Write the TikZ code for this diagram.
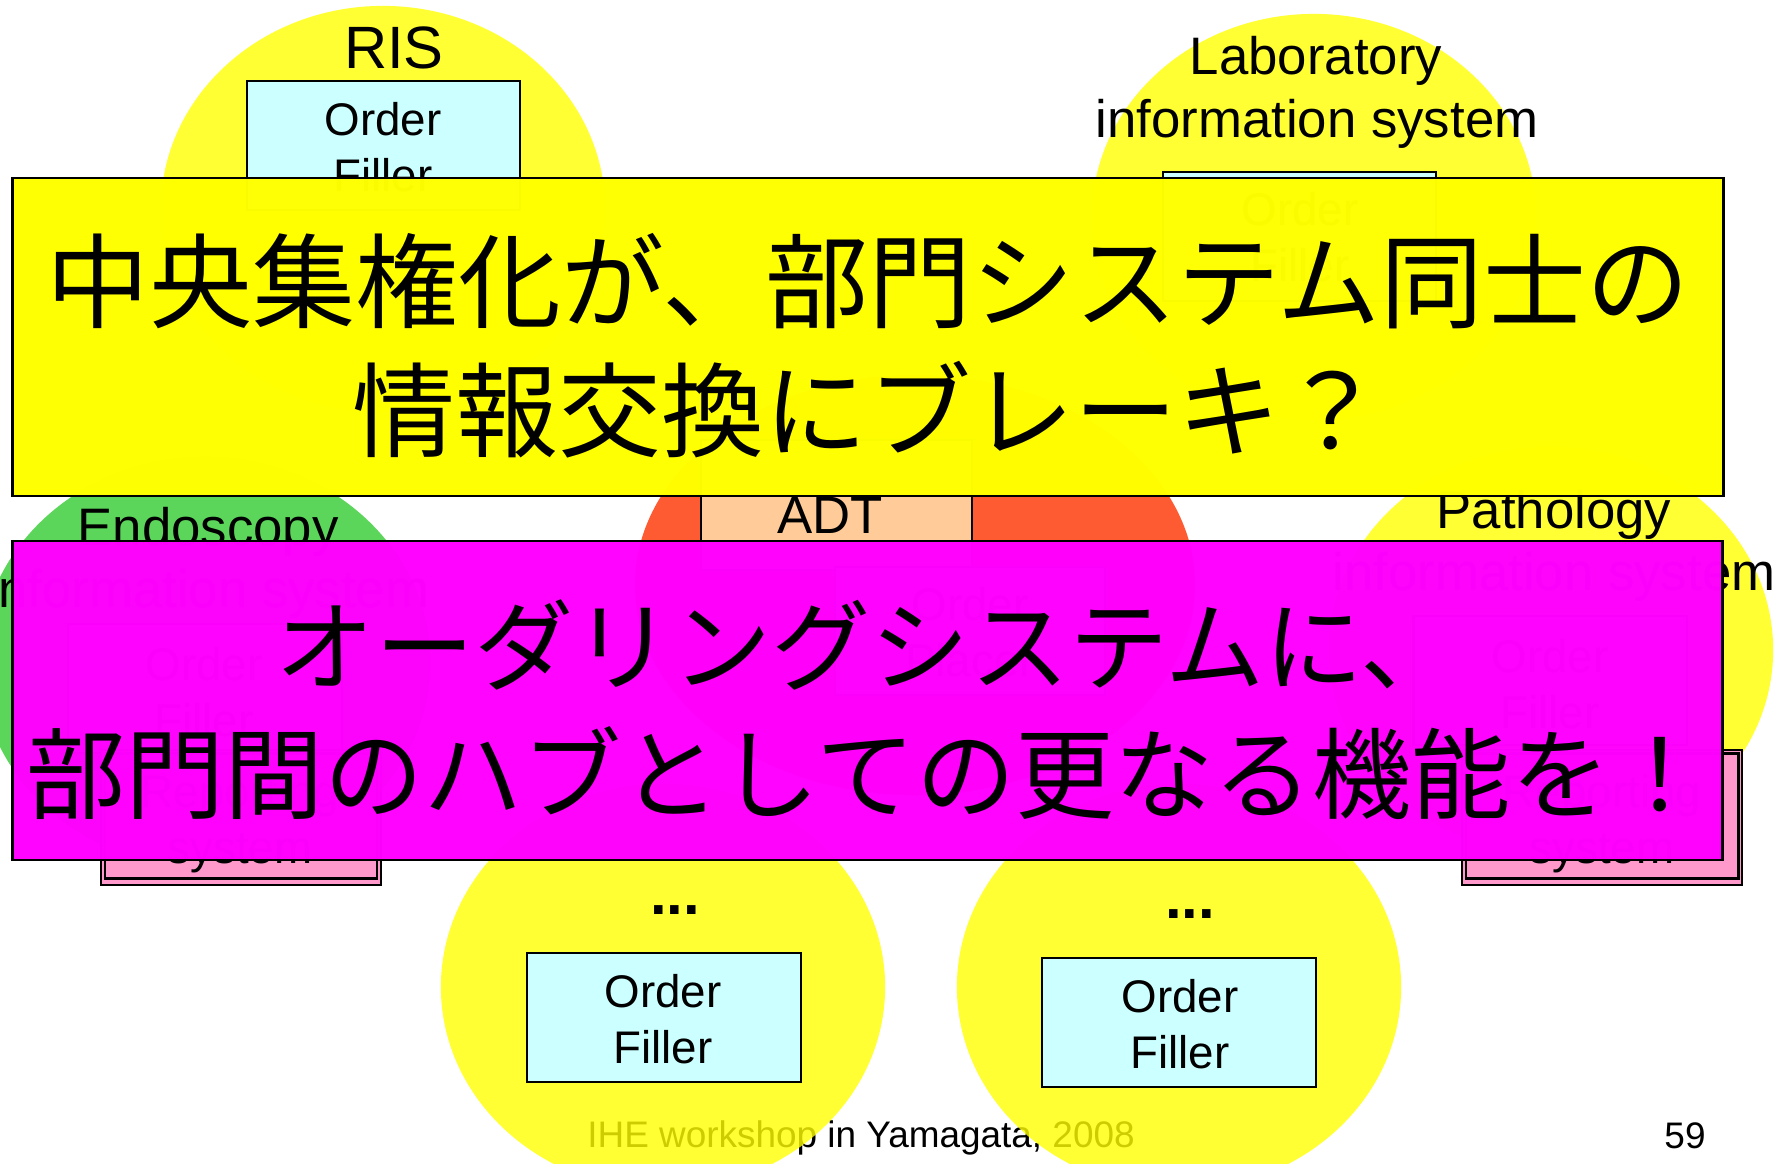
\documentclass[tikz,border=0pt]{standalone}
\usepackage{fontspec}
\setmainfont{Liberation Sans}
\newfontfamily\jpfont{Noto Sans CJK JP}
\usetikzlibrary{shapes.geometric}
\definecolor{ellY}{RGB}{255,255,0}
\definecolor{ellG}{RGB}{51,204,51}
\definecolor{ellR}{RGB}{255,51,0}
\definecolor{boxC}{RGB}{204,255,255}
\definecolor{boxP}{RGB}{255,153,204}
\definecolor{boxA}{RGB}{255,204,153}
\definecolor{banY}{RGB}{255,255,0}
\definecolor{banM}{RGB}{255,0,255}
\begin{document}
\begin{tikzpicture}[x=0.01cm,y=-0.01cm,
  lbl/.style={inner sep=0pt,outer sep=0pt,anchor=base},
  big/.style={lbl,font=\fontsize{17pt}{20pt}\selectfont},
  mid/.style={lbl,font=\fontsize{15pt}{18pt}\selectfont},
  sml/.style={lbl,font=\fontsize{13pt}{16pt}\selectfont},
  foot/.style={lbl,font=\fontsize{10.5pt}{12pt}\selectfont},
  dots/.style={lbl,font=\bfseries\fontsize{17pt}{20pt}\selectfont},
  jpA/.style={lbl,font=\jpfont\fontsize{29.3pt}{35pt}\selectfont},
  jpB/.style={lbl,font=\jpfont\fontsize{28.2pt}{34pt}\selectfont},
  sysell/.style={ellipse,draw=none,inner sep=0pt,fill opacity=0.8,minimum width=4.44cm,minimum height=4.06cm},
  ofbox/.style={rectangle,draw=black,line width=0.6pt,fill=boxC,inner sep=0pt,minimum width=2.73cm,minimum height=1.29cm},
  repbox/.style={rectangle,draw=black,line width=0.6pt,fill=boxP,inner sep=0pt,minimum width=2.8cm,minimum height=1.35cm},
  repin/.style={rectangle,draw=black,line width=0.8pt,inner sep=0pt,minimum width=2.72cm,minimum height=1.25cm},
  banner/.style={rectangle,draw=black,line width=0.7pt,inner sep=0pt,fill opacity=0.985}
]
\useasboundingbox (0,0) rectangle (1786,1163);
\fill[white] (0,0) rectangle (1786,1163);

% footer (under the ellipses)
\node[foot] (footer) at (861,1147) {IHE workshop in Yamagata, 2008};
\node[foot] (pageno) at (1685,1148) {59};

% system ellipses
\node[sysell,fill=ellY] (risell) at (383,209) {};
\node[sysell,fill=ellY] (labell) at (1314,217) {};
\node[sysell,fill=ellG,minimum width=4.5cm,minimum height=4.1cm] (endell) at (205,662) {};
\node[sysell,fill=ellR,minimum width=5.6cm,minimum height=4.2cm] (adtell) at (915,585) {};
\node[sysell,fill=ellY] (patell) at (1551,650) {};
\node[sysell,fill=ellY] (bl) at (663,987) {};
\node[sysell,fill=ellY] (br) at (1179,987) {};

% RIS
\node[big] (rislbl) at (394,68) {RIS};
\node[ofbox] (risbox) at (383.5,145.5) {};
\node[sml] (risO) at (383,135) {Order};
\node[sml] (risF) at (383,191) {Filler};

% Laboratory
\node[mid] (lab1) at (1316,74) {Laboratory};
\node[mid] (lab2) at (1317,137) {information system};
\node[ofbox] (labbox) at (1299.5,236.5) {};
\node[sml] (labO) at (1300,225) {Order};
\node[sml] (labF) at (1300,281) {Filler};

% Endoscopy
\node[mid] (end1) at (208,545) {Endoscopy};
\node[mid] (end2) at (208,607) {information system};
\node[ofbox] (endbox) at (205,688.5) {};
\node[sml] (endO) at (204,680) {Order};
\node[sml] (endF) at (204,736) {Filler};
\node[repbox] (repL) at (241,817.5) {};
\node[repin] (repLi) at (241,816) {};
\node[sml] (repL1) at (240,807) {Reporting};
\node[sml] (repL2) at (240,863) {system};

% ADT
\node[rectangle,draw=black,line width=0.6pt,fill=boxA,inner sep=0pt,minimum width=2.71cm,minimum height=1.3cm] (adtbox) at (836.5,505) {};
\node[mid] (adtlbl) at (830,533) {ADT};
\node[ofbox,minimum width=2.7cm,minimum height=1.28cm] (placer) at (970,631) {};
\node[sml] (plO) at (970,620) {Order};
\node[sml] (plP) at (970,676) {Placer};

% Pathology
\node[mid] (pat1) at (1554,528) {Pathology};
\node[mid] (pat2) at (1554,590) {information system};
\node[ofbox] (patbox) at (1550,680.5) {};
\node[sml] (patO) at (1550,672) {Order};
\node[sml] (patF) at (1550,728) {Filler};
\node[repbox] (repR) at (1602,817.5) {};
\node[repin] (repRi) at (1602,816) {};
\node[sml] (repR1) at (1602,807) {Reporting};
\node[sml] (repR2) at (1602,863) {system};

% bottom systems
\node[dots] (dotsL) at (675,914) {...};
\node[ofbox] (blbox) at (664,1017.5) {};
\node[sml] (blO) at (663,1007) {Order};
\node[sml] (blF) at (663,1063) {Filler};
\node[dots] (dotsR) at (1190,918) {...};
\node[ofbox] (brbox) at (1179,1022.5) {};
\node[sml] (brO) at (1180,1012) {Order};
\node[sml] (brF) at (1180,1068) {Filler};

% banners
\node[banner,fill=banY,minimum width=17.10cm,minimum height=3.18cm] (banY) at (868,337) {};
\node[jpA] (y1) at (868,320) {中央集権化が、部門システム同士の};
\node[jpA] (y2) at (868,449) {情報交換にブレーキ？};
\node[banner,fill=banM,minimum width=17.09cm,minimum height=3.19cm] (banM) at (867.5,700.5) {};
\node[jpB] (m1) at (868,683) {オーダリングシステムに、};
\node[jpB] (m2) at (868,811) {部門間のハブとしての更なる機能を！};
\end{tikzpicture}
\end{document}
